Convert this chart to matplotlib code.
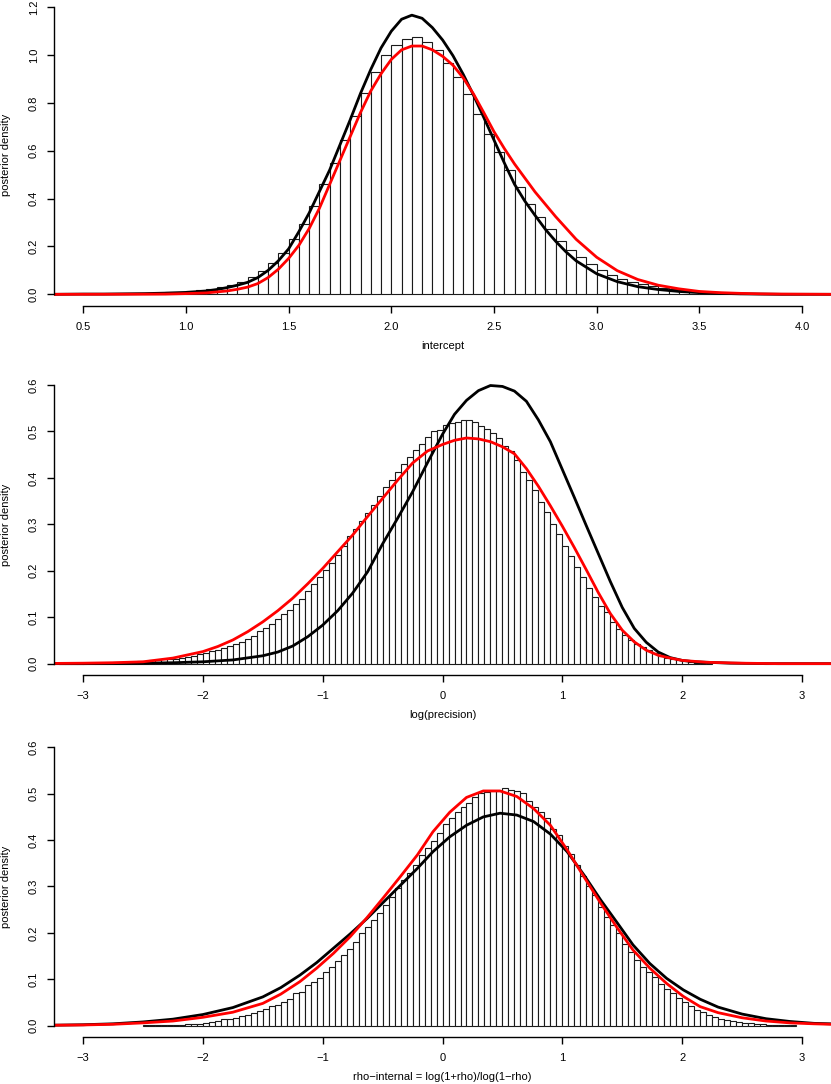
import numpy as np
import matplotlib
matplotlib.use("Agg")
import matplotlib.pyplot as plt

plt.rcParams['font.family'] = ['Liberation Sans', 'DejaVu Sans']

W, H = 831, 1084
bin_w = 0.05

# ---- panel 1: intercept ----
p1_bin_start = 0.50
p1_hist = [0.0005, 0.001, 0.001, 0.0015, 0.002, 0.003, 0.004, 0.006, 0.008, 0.011,
           0.014, 0.018, 0.024, 0.031, 0.039, 0.053, 0.071, 0.098, 0.131, 0.173,
           0.231, 0.295, 0.369, 0.461, 0.549, 0.647, 0.747, 0.840, 0.930, 1.000,
           1.044, 1.069, 1.077, 1.056, 1.022, 0.969, 0.907, 0.838, 0.754, 0.670,
           0.595, 0.521, 0.450, 0.379, 0.325, 0.275, 0.224, 0.187, 0.155, 0.125,
           0.100, 0.081, 0.066, 0.052, 0.043, 0.035, 0.028, 0.022, 0.018, 0.014,
           0.011, 0.008, 0.006, 0.004, 0.003, 0.002, 0.0015, 0.001, 0.001, 0.0005]
p1_black_x = [0.36, 0.5, 0.6, 0.7, 0.8, 0.9, 1.0, 1.1, 1.15, 1.2, 1.25, 1.3, 1.35,
              1.4, 1.45, 1.5, 1.55, 1.6, 1.65, 1.7, 1.75, 1.8, 1.85, 1.9, 1.95, 2.0,
              2.05, 2.1, 2.15, 2.2, 2.25, 2.3, 2.35, 2.4, 2.45, 2.5, 2.55, 2.6, 2.65,
              2.7, 2.75, 2.8, 2.85, 2.9, 3.0, 3.1, 3.2, 3.3, 3.4, 3.5, 3.6, 3.7, 3.8,
              3.9, 4.14]
p1_black_y = [0.0, 0.001, 0.001, 0.002, 0.003, 0.005, 0.008, 0.014, 0.02, 0.028,
              0.038, 0.05, 0.07, 0.1, 0.14, 0.19, 0.262, 0.34, 0.43, 0.52, 0.625,
              0.73, 0.84, 0.94, 1.03, 1.10, 1.15, 1.167, 1.154, 1.115, 1.063, 0.998,
              0.92, 0.833, 0.74, 0.645, 0.55, 0.46, 0.39, 0.33, 0.272, 0.222, 0.178,
              0.14, 0.086, 0.053, 0.032, 0.02, 0.012, 0.007, 0.004, 0.002, 0.001,
              0.0, 0.0]
p1_red_x = [0.36, 0.8, 0.9, 1.0, 1.1, 1.2, 1.25, 1.3, 1.35, 1.4, 1.45, 1.5, 1.55,
            1.6, 1.65, 1.7, 1.75, 1.8, 1.85, 1.9, 1.95, 2.0, 2.05, 2.1, 2.15, 2.2,
            2.25, 2.3, 2.35, 2.4, 2.45, 2.5, 2.55, 2.6, 2.7, 2.8, 2.9, 3.0, 3.1, 3.2,
            3.3, 3.4, 3.5, 3.6, 3.7, 3.8, 3.9, 4.14]
p1_red_y = [0.0, 0.0005, 0.001, 0.003, 0.006, 0.014, 0.021, 0.03, 0.045, 0.07,
            0.105, 0.15, 0.205, 0.275, 0.36, 0.46, 0.56, 0.66, 0.76, 0.85, 0.922,
            0.982, 1.022, 1.038, 1.038, 1.022, 0.995, 0.958, 0.905, 0.838, 0.76,
            0.68, 0.61, 0.545, 0.428, 0.325, 0.23, 0.155, 0.099, 0.062, 0.038,
            0.023, 0.012, 0.007, 0.004, 0.002, 0.001, 0.0]

# ---- panel 2: log(precision) ----
p2_bin_start = -3.20
p2_hist = [0.0005, 0.0005, 0.001, 0.001, 0.001, 0.001, 0.002, 0.002, 0.002, 0.003,
           0.003, 0.004, 0.004, 0.005, 0.006, 0.007, 0.008, 0.009, 0.010, 0.011,
           0.013, 0.014, 0.017, 0.020, 0.024, 0.027, 0.030, 0.033, 0.037, 0.042,
           0.047, 0.053, 0.060, 0.070, 0.076, 0.086, 0.097, 0.106, 0.116, 0.128,
           0.139, 0.157, 0.172, 0.186, 0.202, 0.216, 0.235, 0.254, 0.274, 0.290,
           0.308, 0.325, 0.342, 0.361, 0.381, 0.395, 0.412, 0.430, 0.446, 0.461,
           0.472, 0.488, 0.500, 0.503, 0.514, 0.518, 0.521, 0.525, 0.525, 0.521,
           0.511, 0.506, 0.497, 0.487, 0.469, 0.457, 0.439, 0.413, 0.396, 0.374,
           0.349, 0.327, 0.301, 0.280, 0.253, 0.231, 0.208, 0.186, 0.164, 0.143,
           0.125, 0.111, 0.090, 0.075, 0.062, 0.052, 0.043, 0.036, 0.029, 0.022,
           0.017, 0.013, 0.010, 0.007, 0.005, 0.003, 0.002, 0.0015, 0.001]
p2_black_x = [-3.24, -3.0, -2.5, -2.25, -2.0, -1.75, -1.5, -1.375, -1.25, -1.125,
              -1.0, -0.875, -0.75, -0.625, -0.5, -0.375, -0.25, -0.125, 0.0, 0.1,
              0.2, 0.3, 0.4, 0.5, 0.6, 0.7, 0.8, 0.9, 1.0, 1.1, 1.2, 1.3, 1.4, 1.5,
              1.6, 1.7, 1.8, 1.9, 2.0, 2.1, 2.2, 2.4, 2.7, 3.24]
p2_black_y = [0.0, 0.0, 0.001, 0.002, 0.004, 0.008, 0.017, 0.025, 0.038, 0.058,
              0.083, 0.114, 0.152, 0.198, 0.258, 0.313, 0.37, 0.433, 0.494, 0.537,
              0.567, 0.588, 0.599, 0.597, 0.587, 0.565, 0.525, 0.478, 0.418, 0.358,
              0.297, 0.237, 0.177, 0.121, 0.076, 0.046, 0.025, 0.013, 0.007, 0.004,
              0.003, 0.001, 0.0, 0.0]
p2_red_x = [-3.24, -3.0, -2.75, -2.5, -2.25, -2.0, -1.875, -1.75, -1.625, -1.5,
            -1.375, -1.25, -1.125, -1.0, -0.875, -0.75, -0.625, -0.5, -0.375, -0.25,
            -0.125, 0.0, 0.1, 0.2, 0.3, 0.4, 0.5, 0.6, 0.7, 0.8, 0.9, 1.0, 1.1, 1.2,
            1.3, 1.4, 1.5, 1.6, 1.7, 1.8, 1.9, 2.0, 2.2, 2.5, 2.8, 3.24]
p2_red_y = [0.0005, 0.001, 0.002, 0.004, 0.012, 0.026, 0.037, 0.051, 0.069, 0.09,
            0.114, 0.141, 0.172, 0.205, 0.241, 0.277, 0.317, 0.356, 0.395, 0.432,
            0.458, 0.472, 0.481, 0.486, 0.484, 0.478, 0.467, 0.452, 0.42, 0.382,
            0.34, 0.296, 0.25, 0.202, 0.153, 0.108, 0.072, 0.047, 0.029, 0.018,
            0.012, 0.007, 0.003, 0.001, 0.0, 0.0]

# ---- panel 3: rho-internal ----
p3_bin_start = -2.50
p3_hist = [0.0005, 0.001, 0.001, 0.001, 0.0015, 0.002, 0.002, 0.003, 0.003, 0.004,
           0.006, 0.008, 0.011, 0.014, 0.014, 0.017, 0.021, 0.023, 0.027, 0.031,
           0.035, 0.042, 0.045, 0.052, 0.057, 0.070, 0.073, 0.087, 0.095, 0.102,
           0.115, 0.126, 0.139, 0.152, 0.165, 0.180, 0.199, 0.212, 0.228, 0.242,
           0.260, 0.278, 0.297, 0.313, 0.330, 0.347, 0.367, 0.384, 0.398, 0.416,
           0.434, 0.447, 0.461, 0.472, 0.479, 0.492, 0.501, 0.504, 0.506, 0.506,
           0.512, 0.507, 0.506, 0.502, 0.485, 0.472, 0.460, 0.448, 0.425, 0.412,
           0.387, 0.369, 0.346, 0.323, 0.301, 0.282, 0.256, 0.235, 0.218, 0.200,
           0.177, 0.159, 0.142, 0.126, 0.116, 0.104, 0.090, 0.080, 0.070, 0.059,
           0.050, 0.042, 0.034, 0.029, 0.023, 0.018, 0.014, 0.012, 0.009, 0.008,
           0.006, 0.005, 0.004, 0.003, 0.002, 0.002, 0.001, 0.001, 0.0005]
p3_curve_x = [-3.24, -3.0, -2.75, -2.5, -2.25, -2.0, -1.75, -1.5, -1.35, -1.19,
              -1.05, -0.91, -0.77, -0.63, -0.49, -0.35, -0.21, -0.08, 0.06, 0.2,
              0.34, 0.48, 0.62, 0.76, 0.9, 1.04, 1.18, 1.32, 1.46, 1.59, 1.73,
              1.87, 2.01, 2.15, 2.3, 2.5, 2.7, 2.9, 3.1, 3.24]
p3_black_y = [0.001, 0.002, 0.004, 0.008, 0.014, 0.024, 0.039, 0.062, 0.082, 0.109,
              0.136, 0.167, 0.198, 0.231, 0.267, 0.303, 0.339, 0.375, 0.407, 0.432,
              0.45, 0.458, 0.454, 0.44, 0.413, 0.375, 0.325, 0.271, 0.221, 0.174,
              0.134, 0.102, 0.077, 0.057, 0.04, 0.025, 0.015, 0.009, 0.005, 0.004]
p3_red_y = [0.001, 0.0015, 0.003, 0.006, 0.01, 0.018, 0.029, 0.048, 0.068, 0.095,
            0.124, 0.156, 0.192, 0.233, 0.277, 0.322, 0.368, 0.418, 0.46, 0.492,
            0.506, 0.506, 0.494, 0.468, 0.432, 0.379, 0.321, 0.264, 0.21, 0.163,
            0.124, 0.091, 0.063, 0.041, 0.028, 0.017, 0.01, 0.006, 0.004, 0.003]

panels = [
    dict(hist=p1_hist, start=p1_bin_start, bx=p1_black_x, by=p1_black_y,
         rx=p1_red_x, ry=p1_red_y, xlim=(0.359, 4.141), ylim=(-0.048, 1.248),
         xb=(0.5, 4.0), yb=(0, 1.2), xt=np.arange(0.5, 4.01, 0.5),
         yt=np.arange(0, 1.21, 0.2), box=(-4.2, 305.8),
         xlabel="intercept", xlab_y=346, ylab_y=154.5),
    dict(hist=p2_hist, start=p2_bin_start, bx=p2_black_x, by=p2_black_y,
         rx=p2_red_x, ry=p2_red_y, xlim=(-3.24, 3.242), ylim=(-0.024, 0.624),
         xb=(-3, 3), yb=(0, 0.6), xt=np.arange(-3, 4), yt=np.arange(0, 0.61, 0.1),
         box=(373.9, 674.8), xlabel="log(precision)", xlab_y=715, ylab_y=524.4),
    dict(hist=p3_hist, start=p3_bin_start, bx=p3_curve_x, by=p3_black_y,
         rx=p3_curve_x, ry=p3_red_y, xlim=(-3.24, 3.242), ylim=(-0.024, 0.624),
         xb=(-3, 3), yb=(0, 0.6), xt=np.arange(-3, 4), yt=np.arange(0, 0.61, 0.1),
         box=(736.2, 1036.8),
         xlabel="rho\u2212internal = log(1+rho)/log(1\u2212rho)", xlab_y=1077,
         ylab_y=886.5),
]

fig = plt.figure(figsize=(W / 100, H / 100), dpi=100)

for p in panels:
    top, bot = p["box"]
    ax = fig.add_axes([54.3 / W, 1 - bot / H, (831 - 54.3) / W, (bot - top) / H])
    edges = p["start"] + bin_w * np.arange(len(p["hist"]))
    ax.bar(edges, p["hist"], width=bin_w, align="edge", color="white",
           edgecolor="#1a1a1a", linewidth=0.8)
    ax.plot(p["bx"], p["by"], color="black", lw=2.0, solid_joinstyle="round")
    ax.plot(p["rx"], p["ry"], color="#ff0000", lw=2.0, solid_joinstyle="round")
    ax.set_xlim(*p["xlim"])
    ax.set_ylim(*p["ylim"])
    for s in ["top", "right"]:
        ax.spines[s].set_visible(False)
    ax.spines["bottom"].set_bounds(*p["xb"])
    ax.spines["left"].set_bounds(*p["yb"])
    for s in ["bottom", "left"]:
        ax.spines[s].set_linewidth(1.0)
    ax.set_xticks(p["xt"])
    ax.set_yticks(p["yt"])
    if p["xlabel"] == "intercept":
        ax.set_xticklabels(["%.1f" % v for v in p["xt"]])
    else:
        ax.set_xticklabels(["%d" % v if v >= 0 else "\u2212%d" % -v for v in p["xt"]])
    ax.set_yticklabels(["%.1f" % v for v in p["yt"]])
    ax.tick_params(axis="x", length=5, width=1.0, labelsize=8, pad=7)
    ax.tick_params(axis="y", length=5, width=1.0, labelsize=8, pad=6,
                   labelrotation=90)
    for lab in ax.get_yticklabels():
        lab.set_va("center")
    fig.text(442.5 / W, 1 - p["xlab_y"] / H, p["xlabel"], ha="center",
             va="center", fontsize=8)
    fig.text(6.5 / W, 1 - p["ylab_y"] / H, "posterior density", rotation=90,
             ha="center", va="center", fontsize=8)

fig.savefig("out.png", dpi=100)
